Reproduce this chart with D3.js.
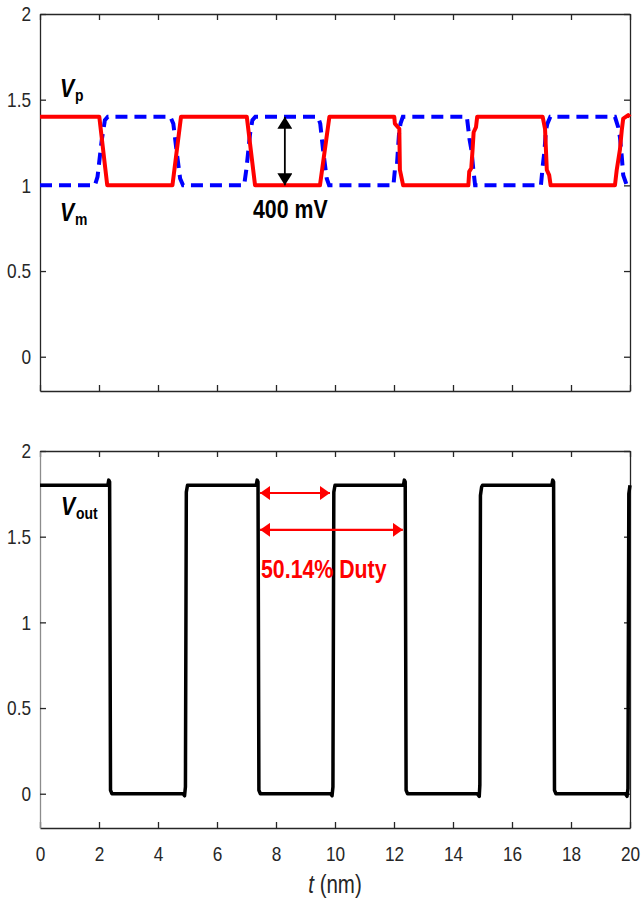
<!DOCTYPE html>
<html>
<head>
<meta charset="utf-8">
<script src="https://cdn.jsdelivr.net/npm/d3@7"></script>
<style>
  body { margin: 0; background: #fff; }
  svg text { font-family: "Liberation Sans", Arial, sans-serif; }
</style>
</head>
<body>
<script>
const w = 641;
const h = 905;
const margin = { left: 40, right: 11 };
const narrow = 0.82; // MATLAB export looks horizontally squeezed

// panel 1: differential inputs (ns, V)
const vpTime = [0, 2.01, 2.28, 4.49, 4.78, 7.01, 7.29, 9.49, 9.81, 12.01, 12.03, 12.18, 12.2, 12.31,
  14.52, 14.55, 14.62, 14.66, 14.7, 14.78, 14.82, 17.04, 17.12, 17.18, 17.26, 17.31,
  19.49, 19.55, 19.66, 19.72, 19.77, 19.94, 20];
const vpVolt = [1.4, 1.4, 1.0, 1.0, 1.4, 1.4, 1.0, 1.0, 1.4, 1.4, 1.36, 1.33, 1.09, 1.0,
  1.0, 1.08, 1.1, 1.2, 1.31, 1.34, 1.4, 1.4, 1.33, 1.09, 1.06, 1.0,
  1.0, 1.09, 1.21, 1.32, 1.39, 1.41, 1.4];

const vmTime = [0, 1.86, 1.95, 2.09, 2.2, 2.3, 4.42, 4.52, 4.63, 4.75, 4.85,
  6.92, 7.0, 7.12, 7.2, 7.3, 9.42, 9.5, 9.6, 9.72, 9.8,
  11.98, 12.03, 12.1, 12.15, 12.17, 12.22, 12.3, 14.47, 14.56, 14.63, 14.69, 14.75,
  16.98, 17.04, 17.1, 17.15, 17.2, 17.3, 19.49, 19.6, 19.66, 19.72, 19.77, 19.89, 20];
const vmVolt = [1.0, 1.0, 1.05, 1.26, 1.38, 1.4, 1.4, 1.36, 1.2, 1.04, 1.0,
  1.0, 1.1, 1.3, 1.38, 1.4, 1.4, 1.36, 1.2, 1.04, 1.0,
  1.0, 1.09, 1.12, 1.25, 1.3, 1.36, 1.4, 1.4, 1.27, 1.2, 1.09, 1.0,
  1.0, 1.11, 1.2, 1.32, 1.36, 1.4, 1.4, 1.34, 1.28, 1.17, 1.06, 1.0, 1.0];

// panel 2: comparator output
const voutTime = [0, 2.3, 2.33, 2.36, 2.39, 2.44, 4.85, 4.9, 4.93, 4.96, 5.0,
  7.33, 7.36, 7.39, 7.42, 7.47, 9.85, 9.9, 9.93, 9.96, 10.0,
  12.32, 12.35, 12.38, 12.41, 12.46, 14.82, 14.89, 14.91, 14.93, 14.97, 15.0,
  17.35, 17.38, 17.41, 17.44, 17.49, 19.84, 19.9, 19.93, 19.96, 20];
const voutVolt = [1.8, 1.8, 1.83, 1.82, 0.02, 0, 0, -0.012, 0.04, 1.76, 1.8,
  1.8, 1.83, 1.82, 0.02, 0, 0, -0.012, 0.04, 1.76, 1.8,
  1.8, 1.83, 1.82, 0.02, 0, 0, -0.015, 0.05, 1.74, 1.79, 1.8,
  1.8, 1.83, 1.82, 0.02, 0, 0, -0.015, 0.03, 1.75, 1.8];

const xTicks = [0, 2, 4, 6, 8, 10, 12, 14, 16, 18, 20];
const yTicks = [0, 0.5, 1, 1.5, 2];

// annotations (data coordinates)
const swingArrow = { t: 8.3, from: 1.0, to: 1.4 };
const dutyArrows = [
  { t0: 7.46, t1: 9.83, v: 1.755 },
  { t0: 7.46, t1: 12.3, v: 1.54 }
];

const svg = d3.select('body').append('svg')
  .attr('width', w)
  .attr('height', h);

const defs = svg.append('defs');
function head(id, color, mw, mh) {
  defs.append('marker')
    .attr('id', id)
    .attr('viewBox', '0 0 10 10')
    .attr('refX', 10).attr('refY', 5)
    .attr('markerUnits', 'userSpaceOnUse')
    .attr('markerWidth', mw).attr('markerHeight', mh)
    .attr('orient', 'auto-start-reverse')
    .attr('preserveAspectRatio', 'none')
    .append('path')
    .attr('d', 'M0,0L10,5L0,10Z')
    .attr('fill', color);
}
head('hk', '#000', 12, 15);
head('hr', '#ff0000', 10, 14);

const x = d3.scaleLinear().domain([0, 20]).range([margin.left, w - margin.right]);

function panel(top, bottom, showX, leftColor) {
  const y = d3.scaleLinear().domain([-0.2, 2]).range([bottom, top]);
  const g = svg.append('g');
  const fmt = d3.format('');

  const ax = (sel) => sel.selectAll('.domain').attr('stroke', '#262626').attr('stroke-width', 1.3);
  const tk = (sel) => sel.selectAll('.tick line').attr('stroke', '#262626').attr('stroke-width', 1.3);

  g.append('g').attr('transform', `translate(0,${top})`)
    .call(d3.axisTop(x).tickValues(xTicks).tickSizeInner(-6).tickSizeOuter(0).tickFormat(''))
    .call(ax).call(tk);
  g.append('g').attr('transform', `translate(${w - margin.right},0)`)
    .call(d3.axisRight(y).tickValues(yTicks).tickSizeInner(-6).tickSizeOuter(0).tickFormat(''))
    .call(ax).call(tk);
  const bx = g.append('g').attr('transform', `translate(0,${bottom})`)
    .call(d3.axisBottom(x).tickValues(xTicks).tickSizeInner(-6).tickSizeOuter(0)
      .tickPadding(18).tickFormat(showX ? fmt : ''))
    .call(ax).call(tk);
  bx.selectAll('text').attr('font-size', 21).attr('fill', '#262626')
    .attr('transform', `scale(${narrow},1)`);
  const ly = g.append('g').attr('transform', `translate(${margin.left},0)`)
    .call(d3.axisLeft(y).tickValues(yTicks).tickSizeInner(-6).tickSizeOuter(0).tickPadding(11).tickFormat(fmt))
    .call(ax).call(tk);
  ly.select('.domain').attr('stroke', leftColor);
  ly.selectAll('text').attr('font-size', 21).attr('fill', '#262626')
    .attr('transform', `scale(${narrow},1)`);
  return y;
}

const y1 = panel(14, 391, false, '#262626');
const y2 = panel(451, 828, true, '#8c8c8c');

const line1 = d3.line().x((d) => x(d[0])).y((d) => y1(d[1]));
const line2 = d3.line().x((d) => x(d[0])).y((d) => y2(d[1]));

svg.append('path')
  .datum(vmTime.map((t, i) => [t, vmVolt[i]]))
  .attr('d', line1)
  .attr('fill', 'none')
  .attr('stroke', '#0000ff')
  .attr('stroke-width', 4)
  .attr('stroke-dasharray', '12,7');

svg.append('path')
  .datum(vpTime.map((t, i) => [t, vpVolt[i]]))
  .attr('d', line1)
  .attr('fill', 'none')
  .attr('stroke', '#ff0000')
  .attr('stroke-width', 4)
  .attr('stroke-linejoin', 'round');

svg.append('path')
  .datum(voutTime.map((t, i) => [t, voutVolt[i]]))
  .attr('d', line2)
  .attr('fill', 'none')
  .attr('stroke', '#000')
  .attr('stroke-width', 3.5)
  .attr('stroke-linejoin', 'round');

// 400 mV swing arrow
svg.append('line')
  .attr('x1', x(swingArrow.t)).attr('x2', x(swingArrow.t))
  .attr('y1', y1(swingArrow.from)).attr('y2', y1(swingArrow.to))
  .attr('stroke', '#000').attr('stroke-width', 1.8)
  .attr('marker-start', 'url(#hk)').attr('marker-end', 'url(#hk)');

// duty cycle arrows
svg.selectAll('.duty')
  .data(dutyArrows)
  .enter().append('line')
  .attr('class', 'duty')
  .attr('x1', (d) => x(d.t0)).attr('x2', (d) => x(d.t1))
  .attr('y1', (d) => y2(d.v)).attr('y2', (d) => y2(d.v))
  .attr('stroke', '#ff0000').attr('stroke-width', 2.2)
  .attr('marker-start', 'url(#hr)').attr('marker-end', 'url(#hr)');

// narrow text helper
function label(xp, yp) {
  return svg.append('g')
    .attr('transform', `translate(${xp},${yp}) scale(${narrow},1)`)
    .append('text');
}
function subLabel(xp, yp, main, sub) {
  const t = label(xp, yp)
    .attr('font-weight', 'bold')
    .attr('fill', '#000');
  t.append('tspan').attr('font-style', 'italic').attr('font-size', 26).text(main);
  t.append('tspan').attr('font-size', 17).attr('dy', 4).attr('dx', 1).text(sub);
}
subLabel(60, 97, 'V', 'p');
subLabel(60, 221, 'V', 'm');
subLabel(61, 515, 'V', 'out');

label(253, 218)
  .attr('font-weight', 'bold').attr('font-size', 26)
  .attr('fill', '#000')
  .text('400 mV');

label(261, 578)
  .attr('font-weight', 'bold').attr('font-size', 26)
  .attr('fill', '#ff0000')
  .text('50.14% Duty');

const xl = label(x(10), 893)
  .attr('text-anchor', 'middle')
  .attr('font-size', 25)
  .attr('fill', '#262626');
xl.append('tspan').attr('font-style', 'italic').text('t');
xl.append('tspan').text(' (nm)');
</script>
</body>
</html>
